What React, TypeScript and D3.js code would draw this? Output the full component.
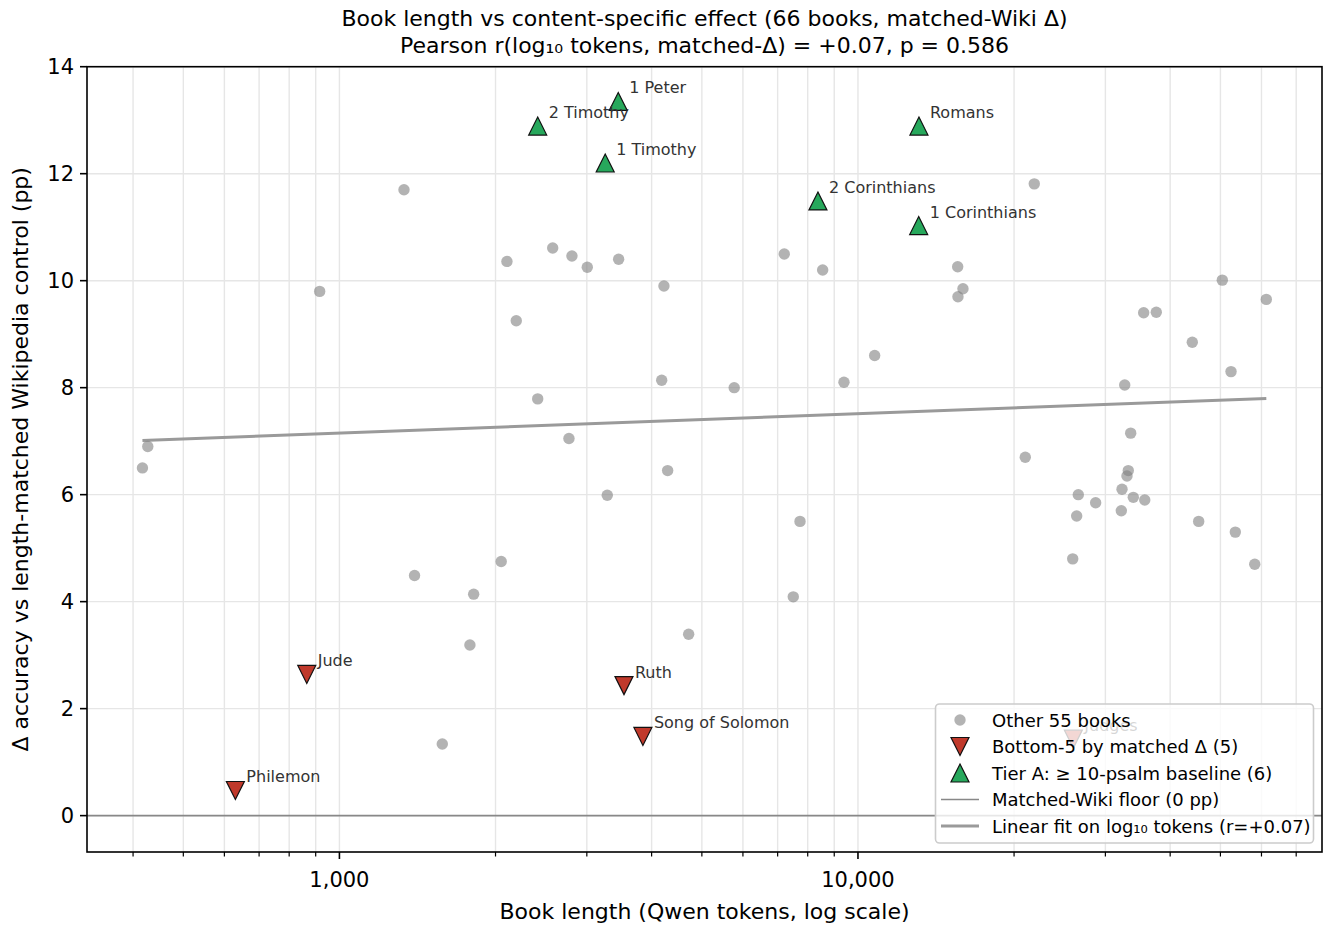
import React, { useEffect, useRef } from 'react';
import * as d3 from 'd3';

// "Other" books: token count (log x) and matched-Wiki delta (pp)
const otherTokens = [
  1332, 916, 427, 417, 1396, 2051, 1815, 1785, 1579, 2104, 2578, 2808, 3006, 3455,
  4225, 7209, 8549, 2193, 10770, 4183, 5772, 9397, 2412, 2771, 4295, 3285, 7731,
  7503, 4715, 21878, 15570, 15940, 15590, 50420, 61300, 35560, 37610, 44130, 52410,
  32690, 33570, 21020, 33210, 33020, 26600, 28730, 32300, 33960, 35730, 26410,
  32200, 45400, 53420, 25950, 58230,
];
const otherDelta = [
  11.7, 9.8, 6.9, 6.5, 4.49, 4.75, 4.14, 3.19, 1.34, 10.36, 10.61, 10.46, 10.25, 10.4,
  9.9, 10.5, 10.2, 9.25, 8.6, 8.14, 8.0, 8.1, 7.79, 7.05, 6.45, 5.99, 5.5,
  4.09, 3.39, 11.81, 10.26, 9.85, 9.7, 10.01, 9.65, 9.4, 9.41, 8.85, 8.3,
  8.05, 7.15, 6.7, 6.45, 6.35, 6.0, 5.85, 6.1, 5.95, 5.9, 5.6,
  5.7, 5.5, 5.3, 4.8, 4.7,
];

// Bottom-5 by matched delta
const bottomNames = ['Jude', 'Philemon', 'Ruth', 'Song of Solomon', 'Judges'];
const bottomTokens = [865, 630, 3538, 3848, 26020];
const bottomDelta = [2.64, 0.47, 2.43, 1.48, 1.43];

// Tier A books
const tierNames = ['1 Peter', '2 Timothy', '1 Timothy', '2 Corinthians', '1 Corinthians', 'Romans'];
const tierTokens = [3449, 2412, 3255, 8372, 13095, 13110];
const tierDelta = [13.35, 12.89, 12.2, 11.49, 11.03, 12.89];

const xMajorTicks = [1000, 10000];
const yTicks = [0, 2, 4, 6, 8, 10, 12, 14];

const legendLabels = [
  'Other 55 books',
  'Bottom-5 by matched \u0394 (5)',
  'Tier A: \u2265 10-psalm baseline (6)',
  'Matched-Wiki floor (0 pp)',
  'Linear fit on log\u2081\u2080 tokens (r=+0.07)',
];

const FONT = "'DejaVu Sans', sans-serif";
const RED = '#c0392b';
const GREEN = '#27a85c';

const triPath = (up: boolean, s = 9) =>
  up ? `M0,${-s}L${s},${s}L${-s},${s}Z` : `M0,${s}L${s},${-s}L${-s},${-s}Z`;

const App = () => {
  const svgRef = useRef<SVGSVGElement | null>(null);

  useEffect(() => {
    if (!svgRef.current) return;
    const svg = d3.select(svgRef.current);
    svg.selectAll('*').remove();

    const left = 87;
    const right = 1322;
    const top = 66.7;
    const bottom = 852;

    const x = d3.scaleLog().domain([326, 78500]).range([left, right]);
    const y = d3.scaleLinear().domain([-0.68, 14]).range([bottom, top]);

    svg.append('rect').attr('width', 1325).attr('height', 927).attr('fill', '#fff');

    // grid lines (x major + minor, y major)
    const xAll = x.ticks().filter((t) => t >= 326 && t <= 78500);
    const grid = svg.append('g');
    grid
      .selectAll('.gx')
      .data(xAll)
      .enter()
      .append('line')
      .attr('x1', (d) => x(d))
      .attr('x2', (d) => x(d))
      .attr('y1', top)
      .attr('y2', bottom)
      .attr('stroke', '#e6e6e6')
      .attr('stroke-width', 1.4);
    grid
      .selectAll('.gy')
      .data(yTicks)
      .enter()
      .append('line')
      .attr('x1', left)
      .attr('x2', right)
      .attr('y1', (d) => y(d))
      .attr('y2', (d) => y(d))
      .attr('stroke', '#e6e6e6')
      .attr('stroke-width', 1.4);

    // zero floor
    svg
      .append('line')
      .attr('x1', left)
      .attr('x2', right)
      .attr('y1', y(0))
      .attr('y2', y(0))
      .attr('stroke', '#888')
      .attr('stroke-width', 1.6);

    // linear fit on log10 tokens, all 66 books
    const allX = [...otherTokens, ...bottomTokens, ...tierTokens].map((v) => Math.log10(v));
    const allY = [...otherDelta, ...bottomDelta, ...tierDelta];
    const mx = d3.mean(allX) as number;
    const my = d3.mean(allY) as number;
    const sxy = d3.sum(allX, (v, i) => (v - mx) * (allY[i] - my));
    const sxx = d3.sum(allX, (v) => (v - mx) * (v - mx));
    const slope = sxy / sxx;
    const icpt = my - slope * mx;
    const [lx0, lx1] = d3.extent(allX) as [number, number];
    svg
      .append('line')
      .attr('x1', x(10 ** lx0))
      .attr('x2', x(10 ** lx1))
      .attr('y1', y(icpt + slope * lx0))
      .attr('y2', y(icpt + slope * lx1))
      .attr('stroke', '#9a9a9a')
      .attr('stroke-width', 3);

    // other books
    svg
      .append('g')
      .selectAll('circle')
      .data(otherTokens)
      .enter()
      .append('circle')
      .attr('cx', (d) => x(d))
      .attr('cy', (d, i) => y(otherDelta[i]))
      .attr('r', 5.7)
      .attr('fill', '#808080')
      .attr('fill-opacity', 0.6);

    // bottom-5
    svg
      .append('g')
      .selectAll('path')
      .data(bottomTokens)
      .enter()
      .append('path')
      .attr('d', triPath(false))
      .attr('transform', (d, i) => `translate(${x(d)},${y(bottomDelta[i])})`)
      .attr('fill', RED)
      .attr('stroke', '#111')
      .attr('stroke-width', 1.2);

    // tier A
    svg
      .append('g')
      .selectAll('path')
      .data(tierTokens)
      .enter()
      .append('path')
      .attr('d', triPath(true))
      .attr('transform', (d, i) => `translate(${x(d)},${y(tierDelta[i])})`)
      .attr('fill', GREEN)
      .attr('stroke', '#111')
      .attr('stroke-width', 1.2);

    // annotations
    const labels = svg.append('g').style('font-family', FONT).style('font-size', '16px').attr('fill', '#333');
    bottomNames.forEach((n, i) => {
      labels.append('text').attr('x', x(bottomTokens[i]) + 11).attr('y', y(bottomDelta[i]) - 8).text(n);
    });
    tierNames.forEach((n, i) => {
      labels.append('text').attr('x', x(tierTokens[i]) + 11).attr('y', y(tierDelta[i]) - 8).text(n);
    });

    // frame
    svg
      .append('rect')
      .attr('x', left)
      .attr('y', top)
      .attr('width', right - left)
      .attr('height', bottom - top)
      .attr('fill', 'none')
      .attr('stroke', '#000')
      .attr('stroke-width', 1.6);

    // x ticks
    const axisG = svg.append('g').style('font-family', FONT);
    axisG
      .selectAll('.xminor')
      .data(xAll.filter((t) => !xMajorTicks.includes(t)))
      .enter()
      .append('line')
      .attr('x1', (d) => x(d))
      .attr('x2', (d) => x(d))
      .attr('y1', bottom)
      .attr('y2', bottom + 4.5)
      .attr('stroke', '#000')
      .attr('stroke-width', 1.2);
    axisG
      .selectAll('.xmajor')
      .data(xMajorTicks)
      .enter()
      .append('line')
      .attr('x1', (d) => x(d))
      .attr('x2', (d) => x(d))
      .attr('y1', bottom)
      .attr('y2', bottom + 7)
      .attr('stroke', '#000')
      .attr('stroke-width', 1.6);
    axisG
      .selectAll('.xlab')
      .data(xMajorTicks)
      .enter()
      .append('text')
      .attr('x', (d) => x(d))
      .attr('y', 887)
      .attr('text-anchor', 'middle')
      .style('font-size', '21px')
      .text((d) => d3.format(',')(d));

    // y ticks
    axisG
      .selectAll('.ytick')
      .data(yTicks)
      .enter()
      .append('line')
      .attr('x1', left - 7)
      .attr('x2', left)
      .attr('y1', (d) => y(d))
      .attr('y2', (d) => y(d))
      .attr('stroke', '#000')
      .attr('stroke-width', 1.6);
    axisG
      .selectAll('.ylab')
      .data(yTicks)
      .enter()
      .append('text')
      .attr('x', left - 13)
      .attr('y', (d) => y(d) + 7.5)
      .attr('text-anchor', 'end')
      .style('font-size', '21px')
      .text((d) => `${d}`);

    // axis labels
    svg
      .append('text')
      .attr('x', (left + right) / 2)
      .attr('y', 919)
      .attr('text-anchor', 'middle')
      .style('font-family', FONT)
      .style('font-size', '22px')
      .text('Book length (Qwen tokens, log scale)');
    svg
      .append('text')
      .attr('transform', `translate(28,${(top + bottom) / 2}) rotate(-90)`)
      .attr('text-anchor', 'middle')
      .style('font-family', FONT)
      .style('font-size', '22px')
      .text('\u0394 accuracy vs length-matched Wikipedia control (pp)');

    // title
    const title = svg
      .append('text')
      .attr('text-anchor', 'middle')
      .style('font-family', FONT)
      .style('font-size', '22px');
    title
      .append('tspan')
      .attr('x', (left + right) / 2)
      .attr('y', 26)
      .text('Book length vs content-specific effect (66 books, matched-Wiki \u0394)');
    title
      .append('tspan')
      .attr('x', (left + right) / 2)
      .attr('y', 53)
      .text('Pearson r(log\u2081\u2080 tokens, matched-\u0394) = +0.07, p = 0.586');

    // legend
    const lg = svg.append('g').style('font-family', FONT);
    lg.append('rect')
      .attr('x', 935.5)
      .attr('y', 704)
      .attr('width', 378)
      .attr('height', 139)
      .attr('rx', 4)
      .attr('fill', '#fff')
      .attr('fill-opacity', 0.8)
      .attr('stroke', '#cccccc')
      .attr('stroke-width', 1.6);
    const rowY = (i: number) => 720 + i * 26.5;
    const hx = 960;
    lg.append('circle').attr('cx', hx).attr('cy', rowY(0)).attr('r', 5.7).attr('fill', '#808080').attr('fill-opacity', 0.6);
    lg.append('path').attr('d', triPath(false)).attr('transform', `translate(${hx},${rowY(1)})`).attr('fill', RED).attr('stroke', '#111').attr('stroke-width', 1.2);
    lg.append('path').attr('d', triPath(true)).attr('transform', `translate(${hx},${rowY(2)})`).attr('fill', GREEN).attr('stroke', '#111').attr('stroke-width', 1.2);
    lg.append('line').attr('x1', 941).attr('x2', 979).attr('y1', rowY(3)).attr('y2', rowY(3)).attr('stroke', '#888').attr('stroke-width', 1.6);
    lg.append('line').attr('x1', 941).attr('x2', 979).attr('y1', rowY(4)).attr('y2', rowY(4)).attr('stroke', '#9a9a9a').attr('stroke-width', 3);
    legendLabels.forEach((t, i) => {
      lg.append('text').attr('x', 992).attr('y', rowY(i) + 6.5).style('font-size', '18px').attr('fill', '#000').text(t);
    });
  }, []);

  return (
    <svg
      ref={svgRef}
      width={1325}
      height={927}
      style={{ position: 'absolute', left: 0, top: 0, display: 'block' }}
    />
  );
};

export default App;
